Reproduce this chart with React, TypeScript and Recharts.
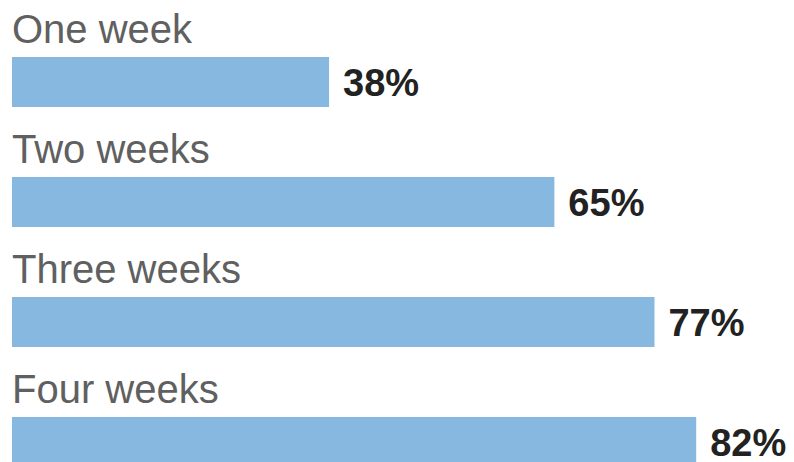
import React from "react";
import { BarChart, Bar, XAxis, YAxis, LabelList } from "recharts";

const categories = ["One week", "Two weeks", "Three weeks", "Four weeks"];
const values = [38, 65, 77, 82];

const data = categories.map((name, i) => ({ name, value: values[i] }));

const NameLabel = (props: any) => {
  const { x, y, value } = props;
  return (
    <text
      x={x}
      y={y - 14}
      fill="#606060"
      fontSize={40}
      fontFamily="'Liberation Sans', Arial, sans-serif"
      textAnchor="start"
    >
      {value}
    </text>
  );
};

const ValueLabel = (props: any) => {
  const { x, y, width, height, value } = props;
  return (
    <text
      x={x + width + 14}
      y={y + height / 2 + 13.5}
      fill="#222222"
      fontSize={38}
      fontWeight="bold"
      fontFamily="'Liberation Sans', Arial, sans-serif"
      textAnchor="start"
    >
      {value}%
    </text>
  );
};

export default function App() {
  return (
    <div
      style={{
        position: "absolute",
        top: 0,
        left: 0,
        width: 794,
        height: 462,
        overflow: "hidden",
        background: "#ffffff",
      }}
    >
      <BarChart
        width={794}
        height={510}
        data={data}
        layout="vertical"
        margin={{ top: 22, right: 6, bottom: 8, left: 12 }}
      >
        <XAxis type="number" domain={[0, 93]} hide />
        <YAxis type="category" dataKey="name" hide />
        <Bar dataKey="value" fill="#87b9e0" barSize={50} isAnimationActive={false}>
          <LabelList dataKey="name" content={NameLabel} />
          <LabelList dataKey="value" content={ValueLabel} />
        </Bar>
      </BarChart>
    </div>
  );
}
